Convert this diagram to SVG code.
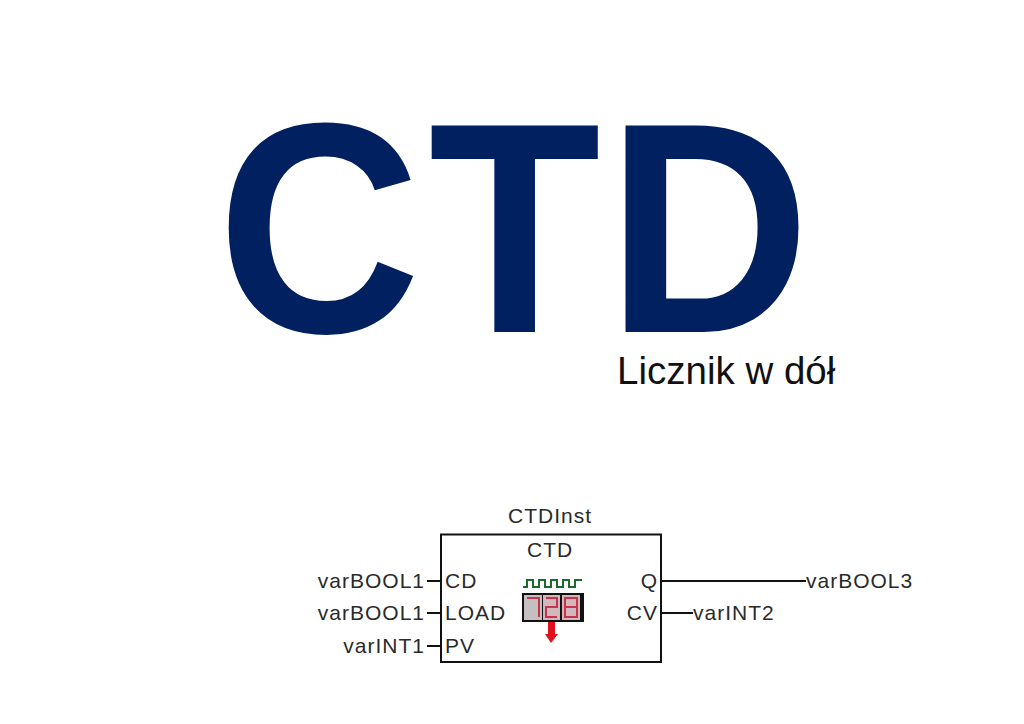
<svg xmlns="http://www.w3.org/2000/svg" width="1024" height="724" viewBox="0 0 1024 724">
<style>
.t{font-family:"Liberation Sans",Arial,sans-serif;font-size:21px;letter-spacing:1px;fill:#2a2a2a}
.w{stroke:#111;stroke-width:2;fill:none}
.seg{stroke:#c8324a;stroke-width:2;fill:none}
</style>
<rect width="1024" height="724" fill="#fff"/>
<g id="title"><text transform="scale(0.94 1)" x="231 455.9 645.4" y="332" font-family="'Liberation Sans',Arial,sans-serif" font-weight="700" font-size="300" fill="#002060">CTD</text></g>
<g id="subtitle"><text x="617" y="384" font-family="'Liberation Sans',Arial,sans-serif" font-size="38.500" fill="#111">Licznik w dół</text></g>
<g id="connectors">
<path class="w" d="M427 581H441M427 613H441M427 646H441M661 581H806M661 613H693"/>
</g>
<g id="block">
<rect x="441" y="534.500" width="220" height="127.500" class="w"/>
<text class="t" x="508" y="523">CTDInst</text>
<text class="t" x="527" y="557">CTD</text>
<text class="t" x="445" y="588">CD</text>
<text class="t" x="445" y="620">LOAD</text>
<text class="t" x="445" y="653">PV</text>
<text class="t" x="658" y="588" text-anchor="end">Q</text>
<text class="t" x="658" y="620" text-anchor="end">CV</text>
</g>
<g id="icon">
<path d="M523 587H527V580H533V587H539V580H545V587H551V580H557V587H563V580H569V587H575V580H582" fill="none" stroke="#1c6a2c" stroke-width="2"/>
<rect x="522" y="593" width="62" height="29" fill="#111"/>
<rect x="524" y="595" width="18" height="25" fill="#c4c0c0"/>
<rect x="543" y="595" width="17" height="25" fill="#d0b8bc"/>
<rect x="562" y="595" width="18" height="25" fill="#d0b8bc"/>
<path class="seg" d="M527 598H539V617M546 598H557V607H546V617H557M565 598H577V617H565ZM565 607H577"/>
<path d="M548 622H555V634H558L551 643L545 634H548Z" fill="#e0101c"/>
</g>
<g id="inputs">
<text class="t" x="425" y="588" text-anchor="end">varBOOL1</text>
<text class="t" x="425" y="620" text-anchor="end">varBOOL1</text>
<text class="t" x="425" y="653" text-anchor="end">varINT1</text>
</g>
<g id="outputs">
<text class="t" x="806" y="588">varBOOL3</text>
<text class="t" x="693" y="620">varINT2</text>
</g>
</svg>
